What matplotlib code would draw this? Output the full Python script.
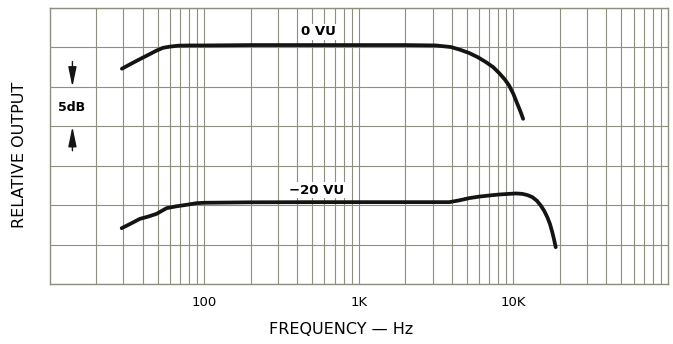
import matplotlib
matplotlib.use("Agg")
import matplotlib.pyplot as plt
from matplotlib.ticker import FixedLocator, LogLocator, NullFormatter

# response curves (frequency in Hz, relative output in dB)
freq_0vu = [29.4, 33.7, 38.9, 44.0, 49.0, 54.2, 60.0, 67.7, 80, 98, 200, 500, 1000,
            2000, 3160, 3940, 4500, 5180, 5900, 6630, 7400, 8090, 8750, 9380,
            10000, 10600, 11100, 11560]
db_0vu = [-2.70, -2.07, -1.43, -0.90, -0.42, -0.05, 0.10, 0.22, 0.25, 0.25, 0.30, 0.30, 0.30,
          0.30, 0.25, 0.05, -0.28, -0.71, -1.25, -1.85, -2.50, -3.25, -4.00, -4.82,
          -5.90, -7.14, -8.10, -9.05]

freq_m20 = [29.3, 33.5, 38.4, 43.5, 49.3, 57.2, 66.0, 76.9, 89.3, 100, 197, 500, 1000,
            2000, 3850, 4450, 5180, 6000, 6970, 8100, 9380, 10400, 11430, 12300,
            13260, 14200, 15040, 15800, 16570, 17250, 17850, 18350, 18780]
db_m20 = [-22.92, -22.35, -21.74, -21.45, -21.10, -20.38, -20.15, -19.96, -19.75, -19.70,
          -19.64, -19.62, -19.62, -19.62, -19.62, -19.40, -19.11, -18.92, -18.78, -18.65,
          -18.57, -18.52, -18.57, -18.72, -18.98, -19.45, -20.05, -20.70, -21.52, -22.40,
          -23.43, -24.40, -25.33]

tick_freqs = [100, 1000, 10000]
tick_labels = ["100", "1K", "10K"]
curve_labels = ["0 VU", "\u221220 VU"]

grid_color = "#8e8e7e"

fig = plt.figure(figsize=(6.73, 3.44), dpi=100)
ax = fig.add_axes([49.5 / 673, 1 - 284 / 344, (668 - 49.5) / 673, (284 - 8) / 344])

ax.set_xscale("log")
ax.set_xlim(10, 100000)
ax.set_ylim(-30, 5)

ax.xaxis.set_major_locator(FixedLocator(tick_freqs))
ax.set_xticklabels(tick_labels)
ax.xaxis.set_minor_locator(LogLocator(base=10, subs=range(2, 10)))
ax.xaxis.set_minor_formatter(NullFormatter())
ax.set_yticks(range(-30, 6, 5))
ax.set_yticklabels([])
ax.tick_params(axis="both", which="both", length=0)
ax.tick_params(axis="x", pad=9, labelsize=9.5)

ax.grid(True, which="both", axis="x", color=grid_color, linewidth=0.8)
ax.grid(True, which="major", axis="y", color=grid_color, linewidth=0.8)
for sp in ax.spines.values():
    sp.set_color(grid_color)
    sp.set_linewidth(1.0)

ax.plot(freq_0vu, db_0vu, color="#141414", linewidth=2.7, solid_capstyle="round",
        solid_joinstyle="round")
ax.plot(freq_m20, db_m20, color="#141414", linewidth=2.7, solid_capstyle="round",
        solid_joinstyle="round")

ax.text(546, 2.0, curve_labels[0], ha="center", va="center", fontsize=9.5,
        fontweight="semibold", bbox=dict(facecolor="white", edgecolor="none", pad=1))
ax.text(533, -18.1, curve_labels[1], ha="center", va="center", fontsize=9.5,
        fontweight="semibold", bbox=dict(facecolor="white", edgecolor="none", pad=1))

# 5 dB scale marker
ax.text(13.9, -7.6, "5dB", ha="center", va="center", fontsize=9, fontweight="bold",
        bbox=dict(facecolor="white", edgecolor="none", pad=1))
arrow = dict(arrowstyle="-|>,head_length=1.2,head_width=0.25", color="#141414",
             lw=1.0, shrinkA=0, shrinkB=0, mutation_scale=10)
ax.annotate("", xy=(14.07, -5.0), xytext=(14.07, -1.8), arrowprops=arrow)
ax.annotate("", xy=(14.07, -10.05), xytext=(14.07, -13.1), arrowprops=arrow)

fig.text(341 / 673, 1 - 330 / 344, "FREQUENCY \u2014 Hz", ha="center", va="center",
         fontsize=11.5)
fig.text(20 / 673, 1 - 154.5 / 344, "RELATIVE OUTPUT", ha="center", va="center",
         rotation=90, fontsize=11.5)

fig.savefig("out.png", dpi=100, facecolor="white")
